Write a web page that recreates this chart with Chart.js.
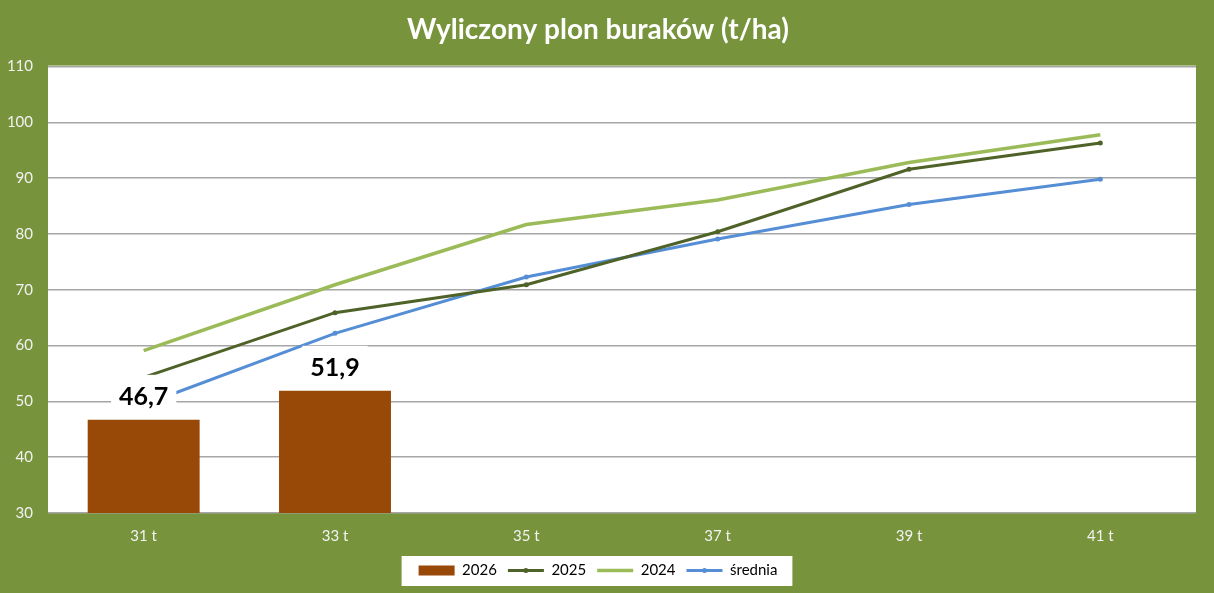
<!DOCTYPE html>
<html>
<head>
<meta charset="utf-8">
<script src="https://cdn.jsdelivr.net/npm/chart.js@4/dist/chart.umd.min.js"></script>
<style>
  html, body { margin: 0; padding: 0; background: #77933C; }
  #wrap { width: 1214px; height: 593px; }
</style>
</head>
<body>
<div id="wrap"><canvas id="plon"></canvas></div>
<script>
const categories = ['31 t', '33 t', '35 t', '37 t', '39 t', '41 t'];
const values2026 = [46.7, 51.9, null, null, null, null];
const values2025 = [54.3, 65.9, 70.9, 80.4, 91.6, 96.3];
const values2024 = [59.1, 70.9, 81.7, 86.1, 92.8, 97.8];
const valuesSrednia = [49.4, 62.2, 72.3, 79.1, 85.3, 89.8];
const yTicks = [30, 40, 50, 60, 70, 80, 90, 100, 110];

const FONT = 'Lato, "Open Sans", sans-serif';

// white plot area and white legend box
const backgrounds = {
    id: 'backgrounds',
    beforeDraw(chart) {
        const ctx = chart.ctx;
        const a = chart.chartArea;
        ctx.save();
        ctx.fillStyle = '#FFFFFF';
        ctx.fillRect(a.left, a.top - 1, a.right - a.left, a.bottom - a.top + 1);
        const boxes = chart.legend && chart.legend.legendHitBoxes;
        if (boxes && boxes.length) {
            const l = Math.min(...boxes.map(b => b.left));
            const r = Math.max(...boxes.map(b => b.left + b.width));
            const t = Math.min(...boxes.map(b => b.top));
            const btm = Math.max(...boxes.map(b => b.top + b.height));
            ctx.fillRect(l - 17, t - 7, r - l + 32, btm - t + 15);
        }
        ctx.restore();
    },
    afterDraw(chart) {
        // small marker dot in the legend line of 2025 and średnia
        const boxes = chart.legend && chart.legend.legendHitBoxes;
        if (!boxes) return;
        const ctx = chart.ctx;
        ctx.save();
        chart.legend.legendItems.forEach((item, i) => {
            const ds = chart.data.datasets[item.datasetIndex];
            if (ds.type !== 'line' || !ds.pointRadius) return;
            const b = boxes[i];
            ctx.fillStyle = ds.borderColor;
            ctx.beginPath();
            ctx.arc(b.left + 18, b.top + b.height / 2, 2.5, 0, Math.PI * 2);
            ctx.fill();
        });
        ctx.restore();
    }
};

// value labels above the 2026 bars, with a white box behind
const barLabels = {
    id: 'barLabels',
    afterDatasetsDraw(chart) {
        const ctx = chart.ctx;
        const meta = chart.getDatasetMeta(0);
        ctx.save();
        ctx.font = 'bold 25px ' + FONT;
        ctx.textAlign = 'center';
        ctx.textBaseline = 'middle';
        meta.data.forEach((bar, i) => {
            const v = values2026[i];
            if (v == null) return;
            const txt = v.toFixed(1).replace('.', ',');
            const w = ctx.measureText(txt).width;
            const y = bar.y - 24;
            ctx.fillStyle = '#FFFFFF';
            ctx.fillRect(bar.x - w / 2 - 8, bar.y - 45, w + 16, 35);
            ctx.fillStyle = '#000000';
            ctx.fillText(txt, bar.x, y + 1);
        });
        ctx.restore();
    }
};

new Chart(document.getElementById('plon'), {
    data: {
        labels: categories,
        datasets: [
            {
                type: 'bar',
                label: '2026',
                data: values2026,
                backgroundColor: '#984807',
                borderWidth: 0,
                categoryPercentage: 1,
                barPercentage: 0.585,
                order: 1
            },
            {
                type: 'line',
                label: '2025',
                data: values2025,
                borderColor: '#4F6228',
                backgroundColor: '#4F6228',
                borderWidth: 3,
                pointRadius: 2.5,
                pointBorderWidth: 0,
                tension: 0,
                order: 0
            },
            {
                type: 'line',
                label: '2024',
                data: values2024,
                borderColor: '#9BBB59',
                backgroundColor: '#9BBB59',
                borderWidth: 3.5,
                pointRadius: 0,
                tension: 0,
                order: 0
            },
            {
                type: 'line',
                label: 'średnia',
                data: valuesSrednia,
                borderColor: '#558ED5',
                backgroundColor: '#558ED5',
                borderWidth: 3,
                pointRadius: 2.5,
                pointBorderWidth: 0,
                tension: 0,
                order: 0
            }
        ]
    },
    options: {
        responsive: true,
        maintainAspectRatio: false,
        animation: false,
        layout: {
            padding: { left: 0, right: 18, top: 0, bottom: 5 }
        },
        scales: {
            x: {
                grid: { display: false },
                border: { display: false },
                ticks: {
                    color: '#F2F2F2',
                    font: { family: FONT, size: 15 },
                    padding: 6
                },
                afterFit(scale) { scale.height = 39; }
            },
            y: {
                min: 30,
                max: 110,
                afterBuildTicks(scale) {
                    scale.ticks = yTicks.map(v => ({ value: v }));
                },
                grid: { color: '#A6A6A6', lineWidth: 1.5, drawTicks: false },
                border: { display: false },
                ticks: {
                    color: '#F2F2F2',
                    font: { family: FONT, size: 15 },
                    padding: 15
                },
                afterFit(scale) { scale.width = 48; }
            }
        },
        plugins: {
            title: {
                display: true,
                text: 'Wyliczony plon buraków (t/ha)',
                color: '#FFFFFF',
                font: { family: FONT, size: 28, weight: 'bold' },
                padding: { top: 13, bottom: 20 }
            },
            legend: {
                position: 'bottom',
                labels: {
                    color: '#000000',
                    font: { family: FONT, size: 15 },
                    usePointStyle: true,
                    pointStyleWidth: 36,
                    boxHeight: 10,
                    padding: 11,
                    sort: (a, b) => a.datasetIndex - b.datasetIndex,
                    generateLabels(chart) {
                        return chart.data.datasets.map((ds, i) => ({
                            text: ds.label,
                            fillStyle: ds.backgroundColor,
                            strokeStyle: ds.type === 'bar' ? ds.backgroundColor : ds.borderColor,
                            lineWidth: ds.type === 'bar' ? 0 : ds.borderWidth,
                            pointStyle: ds.type === 'bar' ? 'rect' : 'line',
                            fontColor: '#000000',
                            datasetIndex: i,
                            hidden: false
                        }));
                    }
                }
            },
            tooltip: { enabled: false }
        }
    },
    plugins: [backgrounds, barLabels]
});
</script>
</body>
</html>
